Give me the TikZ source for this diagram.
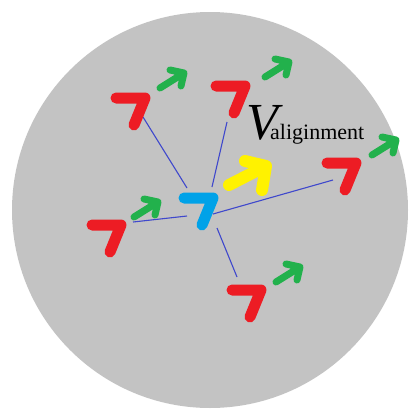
\documentclass[tikz,border=0pt]{standalone}
\usepackage{fontspec}
\setmainfont{Liberation Serif}
\definecolor{bgrey}{HTML}{C3C3C3}
\definecolor{bred}{HTML}{ED1C24}
\definecolor{bgreen}{HTML}{22B14C}
\definecolor{bcyan}{HTML}{00A2E8}
\definecolor{byellow}{HTML}{FFF200}
\definecolor{bline}{HTML}{3F48CC}
\tikzset{
  pics/boid/.style={code={\draw[line width=11pt,line cap=round,line join=round,draw=#1] (0,0) -- (29,0) -- (18,27);}},
  pics/velarrow/.style={code={\draw[line width=7pt,line cap=round,line join=round,draw=bgreen] (0,0) -- (24,-15) (10,-18) -- (24,-15) -- (21,-2);}},
  link/.style={draw=bline,line width=1.1pt},
}
\begin{document}
\begin{tikzpicture}[x=1pt,y=-1pt]
\useasboundingbox (0,0) rectangle (408,410);
\clip (0,0) rectangle (408,410);
\fill[bgrey] (210,210) circle[radius=198];
% boid positions
\coordinate (bA) at (116,98);
\coordinate (bB) at (216,86);
\coordinate (bC) at (327,163);
\coordinate (bD) at (92,225);
\coordinate (bE) at (232,290);
\coordinate (bc) at (184,198);
% link ends
\coordinate (lA) at (143,117);
\coordinate (cA) at (187,188);
\coordinate (lB) at (227,122);
\coordinate (cB) at (212,187);
\coordinate (lD) at (133,222);
\coordinate (cD) at (187,216);
\coordinate (lC) at (333,180);
\coordinate (cC) at (213,214);
\coordinate (lE) at (237,277);
\coordinate (cE) at (217,228);
\draw[link] (cA) -- (lA);
\draw[link] (cB) -- (lB);
\draw[link] (cD) -- (lD);
\draw[link] (cC) -- (lC);
\draw[link] (cE) -- (lE);
% boids
\pic at (bA) {boid=bred};
\pic at (bB) {boid=bred};
\pic at (bC) {boid=bred};
\pic at (bD) {boid=bred};
\pic at (bE) {boid=bred};
\pic at (bc) {boid=bcyan};
% velocities
\pic at (160,88) {velarrow};
\pic at (265,77) {velarrow};
\pic at (372,155) {velarrow};
\pic at (134,217) {velarrow};
\pic at (276,282) {velarrow};
% alignment vector
\coordinate (ys) at (229,185);
\coordinate (yt) at (266,166);
\draw[line width=12pt,line cap=round,line join=round,draw=byellow]
  (ys) -- (yt) (245,161) -- (yt) -- (262,190);
% label
\node[anchor=base west,inner sep=0pt] (V) at (246,139) {\fontsize{52}{52}\selectfont\makebox[22pt][l]{\itshape V}};
\node[anchor=base west,inner sep=0pt] (sub) at (270,139) {\fontsize{22}{22}\selectfont aliginment};
\end{tikzpicture}
\end{document}
